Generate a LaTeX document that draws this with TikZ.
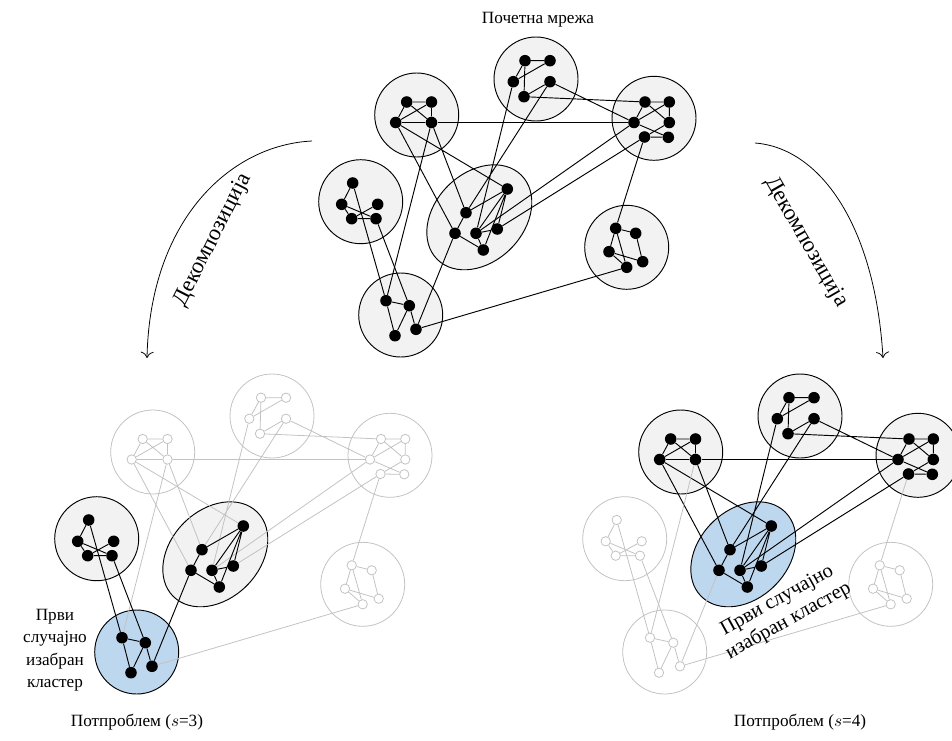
\documentclass[tikz,border=0pt]{standalone}
\usepackage{fontspec}
\setmainfont{Liberation Serif}
\usepackage{xcolor}
\definecolor{ClusterGrey}{HTML}{F2F2F2}
\definecolor{ClusterBlue}{HTML}{BDD7EE}
\definecolor{FadedGrey}{HTML}{C2C2C2}
\usepackage{tikz}
\usetikzlibrary{arrows.meta}
\tikzset{
  % 0 = faded, 1 = active cluster, 2 = randomly picked cluster
  clus/.code={\ifcase#1\relax\pgfkeysalso{draw=FadedGrey,line width=0.5pt}\or\pgfkeysalso{draw=black,fill=ClusterGrey,line width=0.6pt}\else\pgfkeysalso{draw=black,fill=ClusterBlue,line width=0.6pt}\fi},
  vx/.code={\ifcase#1\relax\pgfkeysalso{hollowdot}\else\pgfkeysalso{fulldot}\fi},
  fulldot/.style={circle,fill=black,inner sep=0pt,minimum size=7.4pt},
  hollowdot/.style={circle,draw=FadedGrey,fill=white,line width=0.5pt,inner sep=0pt,minimum size=6pt},
  liveedge/.style={draw=black,line width=0.6pt},
  fadededge/.style={draw=FadedGrey,line width=0.5pt},
  lk/.code 2 args={\ifnum#1=0\relax\pgfkeysalso{fadededge}\else\ifnum#2=0\relax\pgfkeysalso{fadededge}\else\pgfkeysalso{liveedge}\fi\fi},
  flowarc/.style={-{To[length=4pt]},line width=0.5pt},
  lbl/.style={font=\fontsize{11}{14.4}\selectfont},
  biglbl/.style={font=\fontsize{14.5}{17}\selectfont},
  picklbl/.style={font=\fontsize{13}{15}\selectfont}
}
% #1 prefix, #2 shift, #3..#9 state of clusters A..G
\newcommand{\network}[9]{%
  \begin{scope}[shift={(#2)}]
    % clusters
    \path[clus=#3] (416.7,115) circle[radius=42];
    \path[clus=#4] (536,79) circle[radius=42];
    \path[clus=#5] (654,118.3) circle[radius=42];
    \path[clus=#6] (360.7,201.7) circle[radius=42];
    \path[clus=#7,rotate around={45:(479.3,217.3)}] (479.3,217.3) ellipse[x radius=59.5,y radius=44.4];
    \path[clus=#8] (626.7,247.3) circle[radius=42];
    \path[clus=#9] (400.7,315) circle[radius=42];
    % vertices
    \node[vx=#3] (#1a1) at (406.7,102) {};
    \node[vx=#3] (#1a2) at (431.5,102) {};
    \node[vx=#3] (#1a3) at (395.7,122.5) {};
    \node[vx=#3] (#1a4) at (431.5,122.5) {};
    \node[vx=#4] (#1b1) at (525,60.7) {};
    \node[vx=#4] (#1b2) at (550,60.7) {};
    \node[vx=#4] (#1b3) at (513.3,81.7) {};
    \node[vx=#4] (#1b4) at (550,81.7) {};
    \node[vx=#4] (#1b5) at (524,96.7) {};
    \node[vx=#5] (#1c1) at (645,102) {};
    \node[vx=#5] (#1c2) at (669.3,102) {};
    \node[vx=#5] (#1c3) at (634,122.5) {};
    \node[vx=#5] (#1c4) at (669.3,122.5) {};
    \node[vx=#5] (#1c5) at (644.5,137) {};
    \node[vx=#5] (#1c6) at (668.3,137.3) {};
    \node[vx=#6] (#1d1) at (352.7,183) {};
    \node[vx=#6] (#1d2) at (341.7,204.3) {};
    \node[vx=#6] (#1d3) at (377.7,204.3) {};
    \node[vx=#6] (#1d4) at (351.7,218.7) {};
    \node[vx=#6] (#1d5) at (376,218.7) {};
    \node[vx=#7] (#1e1) at (507.3,189) {};
    \node[vx=#7] (#1e2) at (466,212.7) {};
    \node[vx=#7] (#1e3) at (455,233.3) {};
    \node[vx=#7] (#1e4) at (476,233.3) {};
    \node[vx=#7] (#1e5) at (497.3,229) {};
    \node[vx=#7] (#1e6) at (483.3,250) {};
    \node[vx=#8] (#1f1) at (615.7,228.3) {};
    \node[vx=#8] (#1f2) at (635.7,233.3) {};
    \node[vx=#8] (#1f3) at (609,251.7) {};
    \node[vx=#8] (#1f4) at (642.7,261.7) {};
    \node[vx=#8] (#1f5) at (626.7,267.3) {};
    \node[vx=#9] (#1g1) at (386,300.7) {};
    \node[vx=#9] (#1g2) at (409.3,305.7) {};
    \node[vx=#9] (#1g3) at (395,335.7) {};
    \node[vx=#9] (#1g4) at (416,329.3) {};
    % links between clusters
    \draw[lk={#3}{#7}] (#1a3) -- (#1e3) (#1a3) -- (#1e1) (#1a4) -- (#1e2);
    \draw[lk={#3}{#9}] (#1a4) -- (#1g1);
    \draw[lk={#3}{#5}] (#1a4) -- (#1c3);
    \draw[lk={#4}{#7}] (#1b3) -- (#1e4) (#1b4) -- (#1e2);
    \draw[lk={#4}{#5}] (#1b4) -- (#1c3) (#1b5) -- (#1c1);
    \draw[lk={#5}{#7}] (#1c3) -- (#1e4) (#1c5) -- (#1e5);
    \draw[lk={#5}{#8}] (#1c5) -- (#1f1);
    \draw[lk={#6}{#9}] (#1d1) -- (#1g1) (#1d5) -- (#1g2);
    \draw[lk={#7}{#9}] (#1e3) -- (#1g4);
    \draw[lk={#8}{#9}] (#1f5) -- (#1g4);
    % links inside clusters
    \draw[lk={#3}{#3}] (#1a1) -- (#1a2) (#1a1) -- (#1a3) (#1a2) -- (#1a3) (#1a1) -- (#1a4) (#1a3) -- (#1a4) (#1a2) -- (#1a4);
    \draw[lk={#4}{#4}] (#1b1) -- (#1b2) (#1b1) -- (#1b3) (#1b2) -- (#1b3) (#1b1) -- (#1b5) (#1b4) -- (#1b5);
    \draw[lk={#5}{#5}] (#1c1) -- (#1c2) (#1c1) -- (#1c3) (#1c2) -- (#1c3) (#1c1) -- (#1c4) (#1c2) -- (#1c4) (#1c3) -- (#1c6) (#1c4) -- (#1c5) (#1c5) -- (#1c6);
    \draw[lk={#6}{#6}] (#1d1) -- (#1d2) (#1d2) -- (#1d4) (#1d2) -- (#1d5) (#1d4) -- (#1d3) (#1d4) -- (#1d5);
    \draw[lk={#7}{#7}] (#1e1) -- (#1e2) (#1e1) -- (#1e4) (#1e1) -- (#1e5) (#1e1) -- (#1e6) (#1e2) -- (#1e3) (#1e3) -- (#1e6) (#1e4) -- (#1e6) (#1e4) -- (#1e5);
    \draw[lk={#8}{#8}] (#1f1) -- (#1f2) (#1f1) -- (#1f3) (#1f1) -- (#1f5) (#1f2) -- (#1f4) (#1f3) -- (#1f4) (#1f3) -- (#1f5);
    \draw[lk={#9}{#9}] (#1g1) -- (#1g2) (#1g1) -- (#1g3) (#1g2) -- (#1g3) (#1g2) -- (#1g4);
  \end{scope}}

\begin{document}
\begin{tikzpicture}[x=0.64pt,y=-0.64pt]
  \useasboundingbox (0,0) rectangle (952,740);
  % initial network and the two subproblems
  \network{t}{0,0}{1}{1}{1}{1}{1}{1}{1}
  \network{l}{-264,337}{0}{0}{0}{1}{1}{0}{2}
  \network{r}{264,337}{1}{1}{1}{0}{2}{0}{0}
  \node[lbl] (title) at (538,20) {Почетна мрежа};
  % decomposition arrows
  \coordinate (lstart) at (312,141);
  \coordinate (lend) at (147,358);
  \coordinate (rstart) at (755,143);
  \coordinate (rend) at (883,358);
  \draw[flowarc] (lstart) .. controls (230,145) and (150,220) .. (lend);
  \draw[flowarc] (rstart) .. controls (820,148) and (875,225) .. (rend);
  \node[biglbl,rotate=63] (decl) at (213,240) {Декомпозиција};
  \node[biglbl,rotate=-60] (decr) at (806,242) {Декомпозиција};
  % labels of the subproblems
  \node[lbl,align=center] (pickl) at (55,650) {Први\\случајно\\изабран\\кластер};
  \node[picklbl,align=center,rotate=29] (pickr) at (783,611) {Први случајно\\изабран кластер};
  \node[lbl] (subl) at (137,722) {Потпроблем ($s$=3)};
  \node[lbl] (subr) at (800,722) {Потпроблем ($s$=4)};
\end{tikzpicture}
\end{document}
